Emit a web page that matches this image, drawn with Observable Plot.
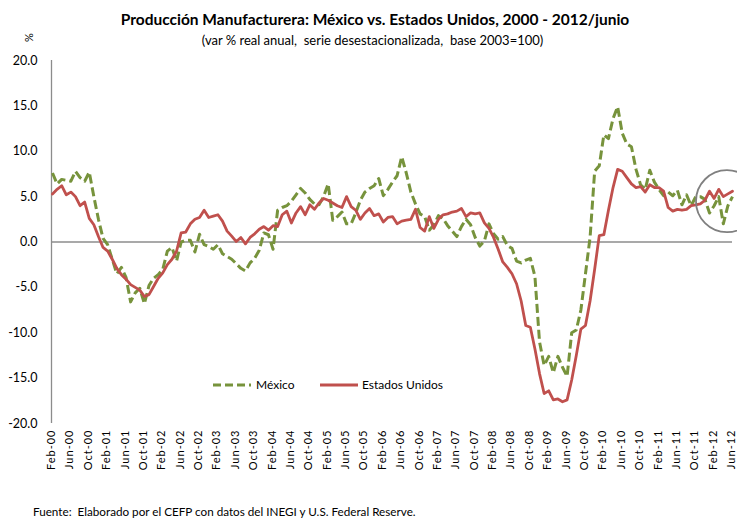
<!DOCTYPE html>
<html>
<head>
<meta charset="utf-8">
<script src="https://cdn.jsdelivr.net/npm/d3@7"></script>
<script src="https://cdn.jsdelivr.net/npm/@observablehq/plot@0.6"></script>
<style>
  body { margin: 0; background: #fff; }
  #wrap { position: relative; width: 737px; height: 519px; overflow: hidden; font-family: Lato, "Liberation Sans", sans-serif; color: #000; }
  #title { position: absolute; top: 10px; left: 0; width: 750px; text-align: center; font-weight: bold; font-size: 15.5px; }
  #subtitle { position: absolute; top: 32px; left: 0; width: 745px; text-align: center; font-size: 13px; }
  #pct { position: absolute; left: 24px; top: 31px; font-size: 11px; transform: rotate(-90deg); }
  #chart { position: absolute; top: 50px; left: 0; }
  #source { position: absolute; left: 33px; top: 504px; font-size: 11.7px; }
  #legend { position: absolute; top: 377px; left: 0; width: 737px; height: 16px; font-size: 12px; }
  #legend span { position: absolute; top: 0px; }
  #legend svg { position: absolute; top: 3px; }
  g[aria-label="x-axis tick label"] text { letter-spacing: 1px; }
</style>
</head>
<body>
<div id="wrap">
  <div id="title">Producción Manufacturera: México vs. Estados Unidos, 2000 - 2012/junio</div>
  <div id="subtitle">(var % real anual,&nbsp; serie desestacionalizada,&nbsp; base 2003=100)</div>
  <div id="pct">%</div>
  <div id="chart"></div>
  <div id="legend">
    <svg width="40" height="10" style="left:212px"><line x1="1" y1="5" x2="39" y2="5" stroke="#77933C" stroke-width="3" stroke-dasharray="8,4"/></svg>
    <span style="left:256px">México</span>
    <svg width="40" height="10" style="left:319px"><line x1="1" y1="5" x2="39" y2="5" stroke="#C0504D" stroke-width="3"/></svg>
    <span style="left:362px">Estados Unidos</span>
  </div>
  <div id="source">Fuente:&nbsp; Elaborado por el CEFP con datos del INEGI y U.S. Federal Reserve.</div>
</div>
<script>
// Tick labels (every 4 months, Feb-00 .. Jun-12)
const tickLabels = ["Feb-00","Jun-00","Oct-00","Feb-01","Jun-01","Oct-01","Feb-02","Jun-02","Oct-02",
  "Feb-03","Jun-03","Oct-03","Feb-04","Jun-04","Oct-04","Feb-05","Jun-05","Oct-05","Feb-06","Jun-06",
  "Oct-06","Feb-07","Jun-07","Oct-07","Feb-08","Jun-08","Oct-08","Feb-09","Jun-09","Oct-09","Feb-10",
  "Jun-10","Oct-10","Feb-11","Jun-11","Oct-11","Feb-12","Jun-12"];
const yTicks = [-20, -15, -10, -5, 0, 5, 10, 15, 20];

// Monthly series, Feb-2000 .. Jun-2012 (149 months)
const mexico = [
  7.6, 6.4, 6.9, 6.8, 6.7, 7.8, 7.1, 6.7, 7.7, 5.0, 2.5, 0.4,
  -0.3, -1.9, -3.5, -2.8, -3.9, -6.6, -5.6, -5.1, -6.8, -4.8, -4.0, -3.6,
  -3.0, -1.0, -0.6, -2.1, 0.0, 0.2, 0.2, -1.1, 0.85, -0.3, -0.5, -0.8,
  -0.3, -1.3, -1.6, -1.9, -2.4, -2.9, -3.2, -2.3, -1.8, -0.9, 1.0, 0.8,
  -0.8, 3.5, 3.8, 4.0, 4.5, 5.2, 5.9, 5.4, 4.7, 4.2, 4.1, 5.0,
  6.4, 2.4, 2.8, 3.3, 2.0, 2.0, 3.2, 4.6, 5.5, 5.9, 6.2, 7.0,
  5.1, 5.8, 6.6, 7.3, 9.4, 7.6, 5.5, 4.2, 3.1, 2.8, 1.3, 1.9,
  2.9, 2.6, 1.8, 1.2, 0.6, 1.7, 2.5, 1.9, 0.5, -0.45, 0.1, 2.0,
  0.9, 0.3, 0.6, -0.4, -0.7, -2.1, -2.3, -2.0, -1.8, -3.8, -11.0, -13.6,
  -12.6, -14.4, -12.6, -13.8, -14.8, -10.0, -9.7, -7.5, -3.5, 0.5, 7.8, 8.4,
  11.8, 11.4, 13.6, 14.9, 12.0, 10.8, 10.5, 8.0, 6.3, 5.8, 7.9, 6.6,
  5.8, 5.1, 5.5, 5.1, 5.7, 4.1, 5.2, 4.0, 5.0, 5.0, 4.7, 3.2,
  4.0, 5.0, 2.0, 4.0, 5.0
];
const usa = [
  5.3, 5.8, 6.2, 5.2, 5.5, 5.0, 4.0, 4.4, 2.6, 1.9, 0.6, -0.6,
  -1.0, -1.9, -2.9, -3.6, -4.1, -4.7, -5.0, -5.3, -6.0, -5.8, -4.9, -4.0,
  -3.4, -2.5, -1.9, -1.0, 1.0, 1.1, 2.0, 2.5, 2.7, 3.5, 2.7, 2.85,
  3.0, 2.3, 1.2, 0.65, 0.05, 0.5, -0.2, 0.5, 0.9, 1.4, 1.7, 1.3,
  1.8, 1.7, 3.0, 3.4, 2.1, 3.2, 3.9, 3.0, 4.1, 3.6, 4.3, 4.8,
  4.6, 4.3, 4.0, 3.8, 5.0, 3.9, 3.5, 2.5, 3.2, 3.7, 2.9, 3.1,
  2.2, 2.7, 2.8, 2.0, 2.3, 2.4, 2.5, 3.6, 1.6, 1.2, 2.8, 1.5,
  2.5, 3.0, 3.1, 3.3, 3.4, 3.7, 2.8, 3.2, 3.1, 3.2, 2.1, 1.5,
  0.5, -0.8, -2.2, -2.8, -3.5, -4.6, -6.5, -9.2, -9.4, -11.8, -14.5, -16.7,
  -16.4, -17.4, -17.3, -17.6, -17.4, -15.2, -12.5, -9.6, -9.2, -6.5, -3.0, 0.7,
  0.8, 3.5, 6.0, 8.0, 7.8, 7.1, 6.4, 6.0, 6.1, 5.5, 6.3, 6.0,
  6.0, 5.6, 3.8, 3.4, 3.6, 3.5, 3.6, 4.0, 4.1, 4.2, 4.6, 5.6,
  4.8, 5.8, 5.0, 5.3, 5.6
];
// Highlight circle annotation (month index, value)
const highlight = [{i: 146.8, v: 4.5}];

const mxData = mexico.map((v, i) => ({i, v}));
const usData = usa.map((v, i) => ({i, v}));
const tickPos = tickLabels.map((_, k) => k * 4);

const chart = Plot.plot({
  width: 737,
  height: 430,
  marginTop: 10,
  marginLeft: 52,
  marginRight: 5,
  marginBottom: 57,
  style: {fontFamily: "Lato, 'Liberation Sans', sans-serif", fontSize: "12px", color: "#000", background: "transparent"},
  x: {type: "linear", domain: [0, 148], label: null},
  y: {domain: [-20, 20], label: null},
  marks: [
    Plot.ruleY([0], {stroke: "#8c8c8c", strokeWidth: 1.3}),
    Plot.ruleX([0], {y1: -20, y2: 20, stroke: "#8c8c8c", strokeWidth: 1.3, dx: -1}),
    Plot.axisY({ticks: yTicks, tickFormat: d => d.toFixed(1), tickSize: 0, tickPadding: 15, fontSize: 12.5, label: null}),
    Plot.axisX({ticks: tickPos, tickFormat: d => tickLabels[d / 4], tickRotate: -90, tickSize: 0, tickPadding: 6, fontSize: 11, dx: -1, label: null}),
    Plot.line(mxData, {x: "i", y: "v", stroke: "#77933C", strokeWidth: 3, strokeDasharray: "9,4", strokeLinecap: "butt", strokeLinejoin: "round"}),
    Plot.line(usData, {x: "i", y: "v", stroke: "#C0504D", strokeWidth: 2.8, strokeLinejoin: "round"}),
    Plot.dot(highlight, {x: "i", y: "v", r: 31, stroke: "#808080", strokeWidth: 1.8, fill: "none"})
  ]
});
document.getElementById("chart").appendChild(chart);
</script>
</body>
</html>
